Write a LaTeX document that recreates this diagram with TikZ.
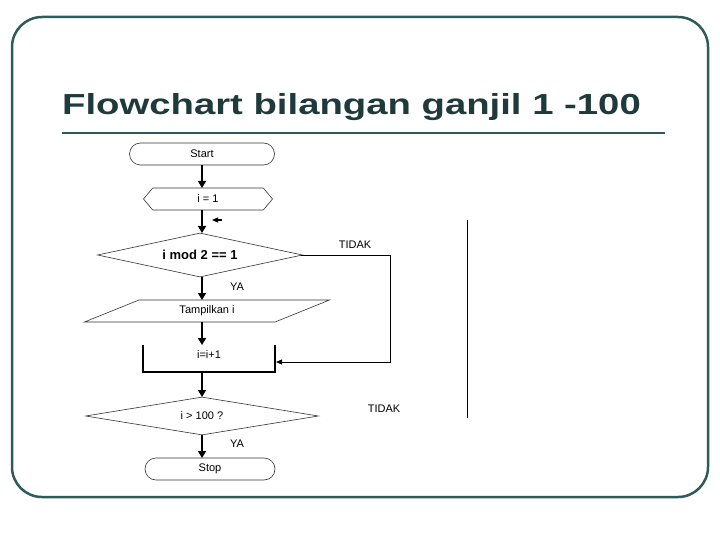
\documentclass[tikz,border=0pt]{standalone}
\usepackage{fontspec}
\usepackage{graphicx}
\setmainfont{Liberation Sans}
\usetikzlibrary{arrows.meta,shapes.geometric,shapes.misc,shapes.symbols}
\definecolor{frame}{HTML}{2F5A5A}
\definecolor{ttl}{HTML}{1F3A3A}
\begin{document}
\begin{tikzpicture}[x=1pt,y=-1pt,
  shp/.style={draw=black!80,line width=0.6pt,inner sep=0pt,font=\fontsize{11}{11}\selectfont},
  arr/.style={line width=1.6pt,-{Triangle[length=7pt,width=8pt]}},
  lbl/.style={font=\fontsize{11}{11}\selectfont}]
\useasboundingbox (0,0) rectangle (720,540);
\draw[frame,line width=2.5pt,rounded corners=30pt] (12,17) rectangle (708,497);
\node[ttl,font=\bfseries\fontsize{29}{29}\selectfont,anchor=west,inner sep=0pt] (title) at (62,107) {\scalebox{1.32}[1]{Flowchart bilangan ganjil 1 -100}};
\draw[frame,line width=2.5pt] (62,133) -- (665,133);
\node[shp,rounded rectangle,minimum width=145pt,minimum height=22pt] (start) at (202,154) {Start};
\node[shp,signal,signal to=west and east,minimum width=129pt,minimum height=22pt,signal pointer angle=100] (init) at (208,199) {i = 1};
\node[shp,diamond,aspect=4.6,minimum width=205pt,minimum height=44pt,font=\bfseries\fontsize{13}{13}\selectfont] (d1) at (200,255) {i mod 2 == 1};
\node[shp,trapezium,trapezium left angle=25,trapezium right angle=-25,minimum width=245pt,minimum height=22pt,trapezium stretches=true] (out) at (207,311) {Tampilkan i};
\draw[line width=1.2pt] (143,345) -- (143,372) -- (275,372) -- (275,345);
\node[lbl] (inc) at (209,355) {i=i+1};
\node[shp,diamond,aspect=6,minimum width=233pt,minimum height=38pt] (d2) at (202,416) {i > 100 ?};
\node[shp,rounded rectangle,minimum width=130pt,minimum height=22pt] (stop) at (210,469) {Stop};
\node[lbl] (ya1) at (237,287) {YA};
\node[lbl] (ya2) at (237,444) {YA};
\node[lbl] (t1) at (355,245) {TIDAK};
\node[lbl] (t2) at (384,409) {TIDAK};
\coordinate (c1) at (202,165);
\coordinate (c2) at (202,188);
\draw[arr] (c1) -- (c2);
\coordinate (c3) at (202,210);
\coordinate (c4) at (202,233);
\draw[arr] (c3) -- (c4);
\coordinate (c5) at (202,277);
\coordinate (c6) at (202,300);
\draw[arr] (c5) -- (c6);
\coordinate (c7) at (202,322);
\coordinate (c8) at (202,345);
\draw[arr] (c7) -- (c8);
\coordinate (c9) at (202,372);
\coordinate (c10) at (202,397);
\draw[arr] (c9) -- (c10);
\coordinate (c11) at (202,435);
\coordinate (c12) at (202,458);
\draw[arr] (c11) -- (c12);
\coordinate (r1) at (301,255);
\coordinate (r2) at (276,362);
\draw[line width=0.8pt,-{Triangle[length=6pt,width=5pt]}] (r1) -- (390,255) -- (390,362) -- (r2);
\coordinate (s1) at (222,220);
\coordinate (s2) at (212,220);
\draw[line width=1.2pt,-{Triangle[length=6pt,width=5pt]}] (s1) -- (s2);
\coordinate (v1) at (467,220);
\coordinate (v2) at (467,418);
\draw[line width=1pt] (v1) -- (v2);
\end{tikzpicture}
\end{document}
